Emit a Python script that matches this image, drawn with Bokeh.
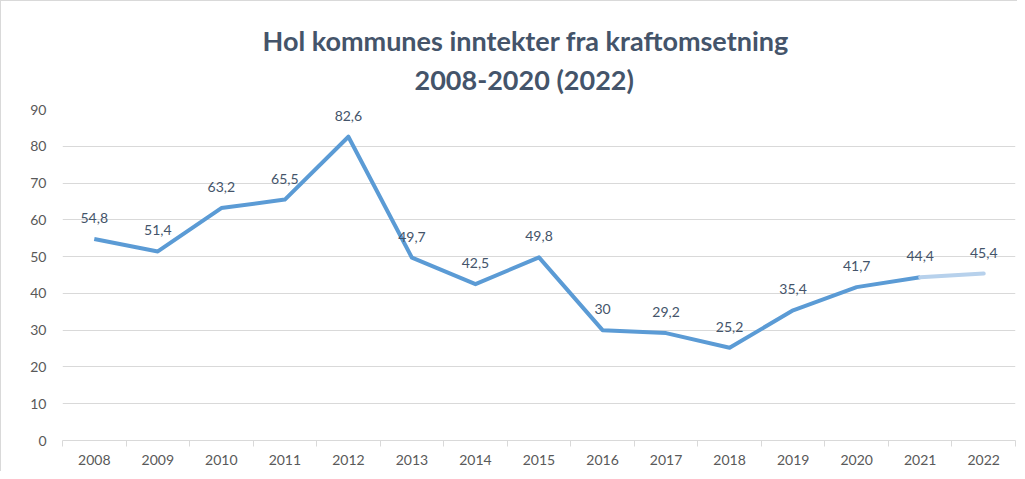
from bokeh.plotting import figure
from bokeh.models import FixedTicker, ColumnDataSource, Range1d, Title
from bokeh.core.properties import value
from bokeh.embed import file_html
from bokeh.resources import INLINE

years = ["2008", "2009", "2010", "2011", "2012", "2013", "2014", "2015",
         "2016", "2017", "2018", "2019", "2020", "2021", "2022"]
income = [54.8, 51.4, 63.2, 65.5, 82.6, 49.7, 42.5, 49.8,
          30.0, 29.2, 25.2, 35.4, 41.7, 44.4, 45.4]
y_ticks = [0, 10, 20, 30, 40, 50, 60, 70, 80, 90]
title_line1 = "Hol kommunes inntekter fra kraftomsetning"
title_line2 = "2008-2020 (2022)"

FONT = "Lato"
idx = list(range(len(years)))
labels = [f"{v:g}".replace(".", ",") for v in income]

p = figure(width=1017, height=471, output_backend="svg", toolbar_location=None,
           title=None,
           x_range=Range1d(-0.5, len(years) - 0.5), y_range=Range1d(0, 90),
           min_border_left=61, min_border_right=3, min_border_top=108,
           min_border_bottom=32, outline_line_color=None)

for txt, so, off in ((title_line2, 28, 352), (title_line1, -20, 200)):
    p.add_layout(Title(text=txt, align="left", offset=off, standoff=so,
                       text_font=FONT, text_font_size="27px",
                       text_color="#44546A", text_font_style="bold"), "above")

# solid part up to 2021, faded projection 2021-2022
src = ColumnDataSource(dict(x=idx[:-1], y=income[:-1]))
p.line("x", "y", source=src, line_color="#5B9BD5", line_width=4, line_join="round")
p.line(idx[-2:], income[-2:], line_color="#B7D1EC", line_width=4, line_cap="round")

p.text(idx, income, text=labels, text_align="center", text_baseline="middle",
       y_offset=-21, text_font=value(FONT), text_font_size="14px", text_color="#44546A")

p.xaxis.ticker = FixedTicker(ticks=idx, minor_ticks=[i - 0.5 for i in range(len(years) + 1)])
p.xaxis.major_label_overrides = {i: y for i, y in enumerate(years)}
p.xaxis.major_tick_line_color = None
p.xaxis.major_tick_out = 0
p.xaxis.major_tick_in = 0
p.xaxis.minor_tick_line_color = "#D9D9D9"
p.xaxis.minor_tick_in = 0
p.xaxis.minor_tick_out = 6
p.xaxis.axis_line_color = "#D9D9D9"
p.xaxis.major_label_standoff = 8
p.xaxis.major_label_text_font = FONT
p.xaxis.major_label_text_font_size = "14px"
p.xaxis.major_label_text_color = "#595959"

p.yaxis.ticker = FixedTicker(ticks=y_ticks)
p.yaxis.axis_line_color = None
p.yaxis.major_tick_line_color = None
p.yaxis.major_tick_out = 0
p.yaxis.major_tick_in = 0
p.yaxis.minor_tick_line_color = None
p.yaxis.major_label_standoff = 16
p.yaxis.major_label_text_font = FONT
p.yaxis.major_label_text_font_size = "14px"
p.yaxis.major_label_text_color = "#595959"

p.xgrid.grid_line_color = None
p.ygrid.grid_line_color = "#D9D9D9"
p.ygrid.grid_line_width = 1

p.border_fill_color = "white"
p.styles = {"border-left": "1px solid #D9D9D9", "border-top": "1px solid #D9D9D9"}

open("out.html", "w").write(file_html(p, INLINE))
